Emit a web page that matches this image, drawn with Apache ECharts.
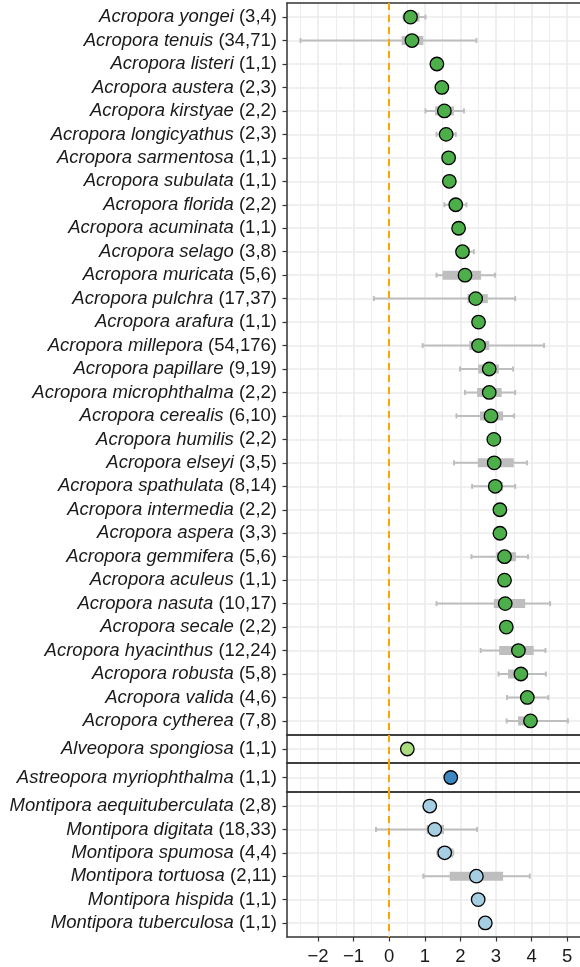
<!DOCTYPE html>
<html>
<head>
<meta charset="utf-8">
<script src="https://cdn.jsdelivr.net/npm/echarts@6/dist/echarts.min.js"></script>
<style>
html, body { margin: 0; padding: 0; background: #fff; }
#chart { width: 580px; height: 967px; }
</style>
</head>
<body>
<div id="chart"></div>
<script>
// Acropora panel
const acroporaNames = ['Acropora yongei', 'Acropora tenuis', 'Acropora listeri', 'Acropora austera',
    'Acropora kirstyae', 'Acropora longicyathus', 'Acropora sarmentosa', 'Acropora subulata',
    'Acropora florida', 'Acropora acuminata', 'Acropora selago', 'Acropora muricata',
    'Acropora pulchra', 'Acropora arafura', 'Acropora millepora', 'Acropora papillare',
    'Acropora microphthalma', 'Acropora cerealis', 'Acropora humilis', 'Acropora elseyi',
    'Acropora spathulata', 'Acropora intermedia', 'Acropora aspera', 'Acropora gemmifera',
    'Acropora aculeus', 'Acropora nasuta', 'Acropora secale', 'Acropora hyacinthus',
    'Acropora robusta', 'Acropora valida', 'Acropora cytherea'];
const acroporaCounts = ['(3,4)', '(34,71)', '(1,1)', '(2,3)', '(2,2)', '(2,3)', '(1,1)', '(1,1)',
    '(2,2)', '(1,1)', '(3,8)', '(5,6)', '(17,37)', '(1,1)', '(54,176)', '(9,19)', '(2,2)', '(6,10)',
    '(2,2)', '(3,5)', '(8,14)', '(2,2)', '(3,3)', '(5,6)', '(1,1)', '(10,17)', '(2,2)', '(12,24)',
    '(5,8)', '(4,6)', '(7,8)'];
const acroporaMeans = [0.60, 0.64, 1.34, 1.48, 1.55, 1.60, 1.67, 1.69, 1.87, 1.95, 2.06, 2.13,
    2.43, 2.51, 2.51, 2.81, 2.81, 2.86, 2.94, 2.95, 2.98, 3.11, 3.11, 3.24, 3.24, 3.26, 3.29,
    3.63, 3.70, 3.88, 3.97];
const acroporaBoxes = [[0.40, 0.85], [0.35, 0.96], null, null, [1.29, 1.82], [1.47, 1.75], null, null,
    [1.72, 2.02], null, [1.90, 2.25], [1.50, 2.58], [2.20, 2.77], null, [2.25, 2.81], [2.50, 3.08],
    [2.47, 3.16], [2.55, 3.20], null, [2.49, 3.50], [2.78, 3.20], null, null, [3.01, 3.56], null,
    [2.94, 3.82], null, [3.09, 4.06], [3.34, 3.90], [3.72, 4.02], [3.62, 4.09]];
const acroporaWhiskers = [[0.40, 1.02], [-2.49, 2.45], null, null, [1.02, 2.10], [1.33, 1.87], null, null,
    [1.55, 2.17], null, [1.89, 2.38], [1.33, 2.97], [-0.43, 3.54], null, [0.94, 4.35], [1.99, 3.48],
    [2.13, 3.54], [1.89, 3.51], null, [1.82, 3.87], [2.33, 3.54], null, null, [2.31, 3.90], null,
    [1.33, 4.52], null, [2.57, 4.39], [3.07, 4.40], [3.31, 4.47], [3.30, 5.02]];

// Alveopora panel
const alveoporaNames = ['Alveopora spongiosa'];
const alveoporaCounts = ['(1,1)'];
const alveoporaMeans = [0.51];
const alveoporaBoxes = [null];
const alveoporaWhiskers = [null];

// Astreopora panel
const astreoporaNames = ['Astreopora myriophthalma'];
const astreoporaCounts = ['(1,1)'];
const astreoporaMeans = [1.73];
const astreoporaBoxes = [null];
const astreoporaWhiskers = [null];

// Montipora panel
const montiporaNames = ['Montipora aequituberculata', 'Montipora digitata', 'Montipora spumosa',
    'Montipora tortuosa', 'Montipora hispida', 'Montipora tuberculosa'];
const montiporaCounts = ['(2,8)', '(18,33)', '(4,4)', '(2,11)', '(1,1)', '(1,1)'];
const montiporaMeans = [1.14, 1.28, 1.56, 2.45, 2.50, 2.70];
const montiporaBoxes = [null, [1.05, 1.54], [1.35, 1.80], [1.70, 3.20], null, null];
const montiporaWhiskers = [null, [-0.37, 2.47], [1.35, 1.80], [0.96, 3.95], null, null];

const xMajorTicks = [-2, -1, 0, 1, 2, 3, 4, 5];
const xMinorTicks = [-2.5, -1.5, -0.5, 0.5, 1.5, 2.5, 3.5, 4.5];

const panels = [
    { names: acroporaNames, counts: acroporaCounts, means: acroporaMeans, boxes: acroporaBoxes, whiskers: acroporaWhiskers, color: '#4DAF4A', top: 3, height: 732 },
    { names: alveoporaNames, counts: alveoporaCounts, means: alveoporaMeans, boxes: alveoporaBoxes, whiskers: alveoporaWhiskers, color: '#A9DC7E', top: 735, height: 28 },
    { names: astreoporaNames, counts: astreoporaCounts, means: astreoporaMeans, boxes: astreoporaBoxes, whiskers: astreoporaWhiskers, color: '#3A87C1', top: 763, height: 29 },
    { names: montiporaNames, counts: montiporaCounts, means: montiporaMeans, boxes: montiporaBoxes, whiskers: montiporaWhiskers, color: '#A6CEE3', top: 792, height: 145 }
];

const FONT = 'Liberation Sans, Arial, Helvetica, sans-serif';
const X_MIN = -2.87, X_MAX = 5.36;
const FRAME = { color: '#333', width: 1.5 };

const grid = [], xAxis = [], yAxis = [], series = [];

panels.forEach((p, k) => {
    const n = p.names.length;
    const idx = p.names.map((_, i) => i);
    const isBottom = k === panels.length - 1;
    grid.push({ left: 287, right: 0, top: p.top, height: p.height });
    // minor vertical grid lines, also draws the panel's top edge
    xAxis.push({
        type: 'value', gridIndex: k, min: X_MIN, max: X_MAX, position: 'top',
        axisLine: { show: true, onZero: false, lineStyle: FRAME },
        axisTick: { show: false, customValues: xMinorTicks },
        axisLabel: { show: false },
        splitLine: { show: true, lineStyle: { color: '#EDEDED', width: 1 } }
    });
    // major vertical grid lines, ticks and labels, panel's bottom edge
    xAxis.push({
        type: 'value', gridIndex: k, min: X_MIN, max: X_MAX, position: 'bottom',
        axisLine: { show: true, onZero: false, lineStyle: FRAME },
        axisTick: { show: isBottom, customValues: xMajorTicks, length: 4.5, lineStyle: { color: '#333', width: 1.2 } },
        axisLabel: {
            show: isBottom, customValues: xMajorTicks, margin: 10,
            fontFamily: FONT, fontSize: 18.5, color: '#1a1a1a',
            formatter: v => v < 0 ? '\u2212' + Math.abs(v) : String(v)
        },
        splitLine: { show: true, lineStyle: { color: '#EBEBEB', width: 1.6 } }
    });
    yAxis.push({
        type: 'value', gridIndex: k, inverse: true, min: -0.6, max: n - 0.4,
        axisLine: { show: true, onZero: false, lineStyle: FRAME },
        axisTick: { show: true, customValues: idx, length: 4.5, lineStyle: { color: '#333', width: 1.2 } },
        axisLabel: {
            customValues: idx, margin: 10,
            formatter: v => {
                const i = Math.round(v);
                return '{i|' + p.names[i] + '}{n| ' + p.counts[i] + '}';
            },
            rich: {
                i: { fontFamily: FONT, fontSize: 18.5, fontStyle: 'italic', color: '#1a1a1a' },
                n: { fontFamily: FONT, fontSize: 18.5, color: '#1a1a1a' }
            }
        },
        splitLine: { show: true, lineStyle: { color: '#EBEBEB', width: 1.6 } }
    });

    const rangeData = [];
    idx.forEach(i => {
        if (p.whiskers[i]) {
            rangeData.push([i, p.whiskers[i][0], p.whiskers[i][1], p.boxes[i][0], p.boxes[i][1]]);
        }
    });
    series.push({
        type: 'custom', xAxisIndex: 2 * k, yAxisIndex: k, z: 2, silent: true,
        encode: { x: [1, 2, 3, 4], y: 0 },
        data: rangeData,
        renderItem: (params, api) => {
            const row = api.value(0);
            const w0 = api.coord([api.value(1), row]);
            const w1 = api.coord([api.value(2), row]);
            const b0 = api.coord([api.value(3), row]);
            const b1 = api.coord([api.value(4), row]);
            const y = w0[1];
            const line = { stroke: '#BEBEBE', lineWidth: 2 };
            return {
                type: 'group',
                children: [
                    { type: 'line', shape: { x1: w0[0], y1: y, x2: w1[0], y2: y }, style: line },
                    { type: 'line', shape: { x1: w0[0], y1: y - 2.5, x2: w0[0], y2: y + 2.5 }, style: line },
                    { type: 'line', shape: { x1: w1[0], y1: y - 2.5, x2: w1[0], y2: y + 2.5 }, style: line },
                    { type: 'rect', shape: { x: b0[0], y: y - 4.5, width: b1[0] - b0[0], height: 9 }, style: { fill: '#BEBEBE' } }
                ]
            };
        }
    });
    series.push({
        type: 'scatter', xAxisIndex: 2 * k, yAxisIndex: k, z: 3, silent: true,
        symbol: 'circle', symbolSize: 13.5,
        itemStyle: { color: p.color, borderColor: '#000', borderWidth: 1.3, opacity: 1 },
        data: p.means.map((m, i) => [m, i]),
        markLine: {
            silent: true, symbol: 'none', animation: false,
            label: { show: false },
            lineStyle: { color: '#FFA500', width: 2, type: [7, 5] },
            data: [{ xAxis: 0 }]
        }
    });
});

const chart = echarts.init(document.getElementById('chart'), null, { renderer: 'canvas' });
chart.setOption({
    animation: false,
    backgroundColor: '#fff',
    grid: grid,
    xAxis: xAxis,
    yAxis: yAxis,
    series: series
});
</script>
</body>
</html>
